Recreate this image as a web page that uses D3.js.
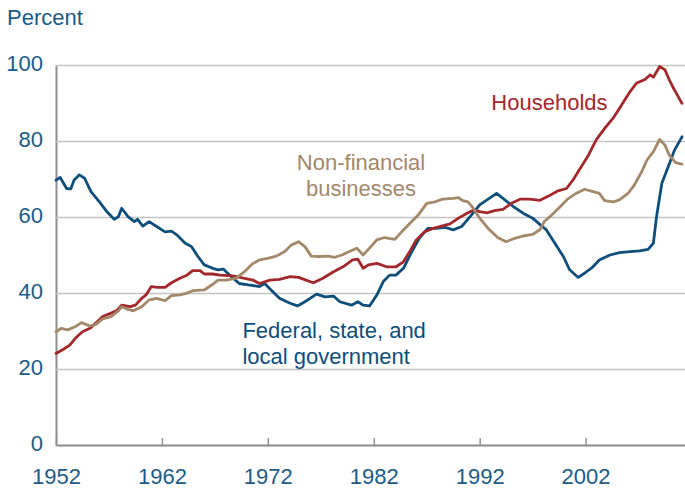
<!DOCTYPE html>
<html>
<head>
<meta charset="utf-8">
<script src="https://cdn.jsdelivr.net/npm/d3@7"></script>
<style>
    body { margin: 0; background: #fff; }
    .chart { width: 685px; height: 489px; }
    text { font-family: "Liberation Sans", Arial, sans-serif; font-size: 22px; }
    .axis text { fill: #1c5b87; }
</style>
</head>
<body>
<div class="chart"></div>
<script>
// Debt as a percent of GDP (year, percent)

let chart = {};

let xTicks = [1952, 1962, 1972, 1982, 1992, 2002];
let yTicks = [0, 20, 40, 60, 80, 100];

let fedYears = [1952.0, 1952.4, 1953.0, 1953.4, 1953.7, 1954.2, 1954.7, 1955.3, 1956.1, 1956.8,
    1957.5, 1957.9, 1958.2, 1958.8, 1959.4, 1959.7, 1960.2, 1960.8, 1961.5, 1962.3,
    1962.9, 1963.4, 1964.2, 1964.8, 1965.4, 1966.0, 1966.8, 1967.3, 1967.8, 1968.4,
    1969.3, 1970.3, 1971.2, 1971.7, 1972.3, 1973.1, 1974.1, 1974.8, 1975.5, 1976.6,
    1977.4, 1978.2, 1978.8, 1979.9, 1980.5, 1981.0, 1981.6, 1982.3, 1982.9, 1983.5,
    1984.1, 1984.8, 1985.6, 1986.3, 1987.1, 1987.9, 1988.7, 1989.5, 1990.3, 1991.1,
    1992.0, 1992.8, 1993.6, 1994.2, 1995.2, 1996.1, 1997.0, 1997.7, 1998.3, 1999.1,
    1999.9, 2000.5, 2001.3, 2001.9, 2002.7, 2003.3, 2004.3, 2005.2, 2006.2, 2007.1,
    2007.9, 2008.4, 2008.7, 2009.2, 2009.8, 2010.4, 2011.1];
let fedValues = [69.7, 70.4, 67.5, 67.4, 69.7, 71.1, 70.2, 66.7, 64.0, 61.4,
    59.4, 60.1, 62.3, 60.1, 58.8, 59.4, 57.6, 58.8, 57.5, 56.1,
    56.3, 55.3, 53.1, 52.2, 49.6, 47.4, 46.5, 46.1, 46.3, 44.7,
    42.5, 42.1, 41.7, 42.5, 40.8, 38.6, 37.3, 36.6, 37.7, 39.7,
    39.0, 39.2, 37.7, 36.8, 37.7, 36.8, 36.6, 39.5, 43.0, 44.7,
    44.7, 46.5, 50.9, 54.4, 57.0, 57.0, 57.3, 56.6, 57.5, 60.1,
    63.2, 64.7, 66.2, 64.9, 62.7, 61.0, 59.7, 58.0, 56.6, 53.1,
    49.6, 46.1, 44.1, 45.2, 46.9, 48.7, 50.0, 50.6, 50.9, 51.1,
    51.5, 53.1, 60.1, 68.9, 73.2, 77.6, 81.1];

let houseYears = [1952.0, 1952.7, 1953.3, 1953.9, 1954.5, 1955.2, 1955.8, 1956.4, 1957.2, 1957.7,
    1958.2, 1959.0, 1959.5, 1960.1, 1960.5, 1961.0, 1961.6, 1962.3, 1962.9, 1963.7,
    1964.3, 1964.9, 1965.6, 1966.0, 1966.8, 1967.5, 1968.7, 1969.7, 1970.6, 1971.2,
    1972.2, 1973.1, 1974.1, 1974.9, 1975.6, 1976.3, 1977.2, 1978.2, 1979.1, 1980.0,
    1980.5, 1981.0, 1981.5, 1982.3, 1983.2, 1984.1, 1984.8, 1985.4, 1986.0, 1986.8,
    1987.6, 1988.4, 1989.2, 1990.0, 1990.8, 1991.4, 1992.0, 1992.7, 1993.4, 1994.2,
    1995.0, 1995.8, 1996.7, 1997.7, 1998.5, 1999.4, 2000.2, 2000.8, 2001.5, 2002.2,
    2003.0, 2003.8, 2004.6, 2005.4, 2006.2, 2006.8, 2007.6, 2008.1, 2008.4, 2009.0,
    2009.5, 2009.9, 2010.4, 2011.1];
let houseValues = [24.1, 25.2, 26.3, 28.3, 29.8, 30.7, 32.2, 33.8, 34.7, 35.3,
    36.8, 36.4, 36.8, 38.6, 39.5, 41.7, 41.5, 41.5, 42.7, 43.9,
    44.6, 45.9, 45.9, 45.0, 45.0, 44.7, 44.5, 43.9, 43.4, 42.5,
    43.4, 43.6, 44.3, 44.1, 43.4, 42.7, 43.9, 45.6, 46.9, 48.7,
    48.9, 46.5, 47.4, 47.8, 46.9, 46.9, 48.2, 50.9, 53.9, 56.1,
    57.0, 57.6, 58.2, 59.7, 61.0, 61.8, 61.4, 61.1, 61.7, 62.0,
    63.6, 64.7, 64.7, 64.4, 65.5, 66.9, 67.5, 69.7, 72.8, 75.9,
    80.3, 83.3, 86.0, 89.5, 93.0, 95.2, 96.2, 97.4, 96.8, 99.6,
    98.7, 96.1, 93.4, 89.9];

let bizYears = [1952.0, 1952.5, 1953.1, 1953.8, 1954.4, 1955.2, 1955.8, 1956.4, 1957.2, 1957.9,
    1958.2, 1958.8, 1959.3, 1960.1, 1960.8, 1961.5, 1962.3, 1962.9, 1963.7, 1964.3,
    1964.9, 1966.0, 1966.7, 1967.3, 1968.1, 1969.0, 1969.8, 1970.6, 1971.2, 1972.0,
    1972.8, 1973.6, 1974.2, 1974.9, 1975.5, 1976.1, 1976.9, 1977.7, 1978.3, 1979.0,
    1979.7, 1980.4, 1981.0, 1981.6, 1982.3, 1983.0, 1984.0, 1984.8, 1985.4, 1986.2,
    1987.0, 1987.8, 1988.5, 1989.5, 1990.0, 1990.4, 1990.9, 1991.4, 1992.0, 1992.8,
    1993.7, 1994.5, 1995.3, 1996.1, 1997.0, 1997.7, 1998.1, 1998.8, 1999.6, 2000.3,
    2001.1, 2001.9, 2002.7, 2003.3, 2003.8, 2004.6, 2005.2, 2006.0, 2006.6, 2007.3,
    2007.8, 2008.4, 2009.0, 2009.5, 2009.9, 2010.5, 2011.1];
let bizValues = [29.8, 30.7, 30.3, 31.1, 32.2, 31.3, 31.8, 33.2, 33.8, 35.3,
    36.4, 35.7, 35.3, 36.4, 38.2, 38.6, 38.0, 39.3, 39.5, 39.9,
    40.6, 40.8, 42.1, 43.4, 43.4, 43.9, 45.6, 47.8, 48.7, 49.1,
    49.7, 50.9, 52.6, 53.5, 52.2, 49.7, 49.6, 49.7, 49.4, 50.0,
    50.9, 51.8, 50.0, 51.8, 54.0, 54.6, 54.1, 56.6, 58.3, 60.5,
    63.6, 64.0, 64.7, 64.9, 65.1, 64.3, 64.0, 62.3, 59.7, 57.0,
    54.6, 53.5, 54.4, 55.0, 55.4, 56.7, 58.8, 60.5, 62.7, 64.7,
    66.2, 67.3, 66.7, 66.2, 64.3, 64.0, 64.5, 66.2, 68.4, 71.9,
    75.0, 77.2, 80.4, 78.9, 76.3, 74.3, 73.9];

// direct labels, anchored in data units (year, percent at the first baseline)
let seriesLabels = [
    { id: "house", lines: ["Households"], year: 1993.1, val: 88.2, anchor: "start" },
    { id: "biz", lines: ["Non-financial", "businesses"], year: 1980.8, val: 72.4, anchor: "middle" },
    { id: "fed", lines: ["Federal, state, and", "local government"], year: 1969.6, val: 28.2, anchor: "start" }
];

init();

function init() {

    chart.colors = {
        "fed": "#0e4e7a",
        "house": "#a3282c",
        "biz": "#a3886a"
    };

    chart.theData = [
        { id: "fed", years: fedYears, vals: fedValues },
        { id: "house", years: houseYears, vals: houseValues },
        { id: "biz", years: bizYears, vals: bizValues }
    ].map(s => {
        return {
            id: s.id,
            values: s.years.map((y, i) => {
                return { year: y, val: s.vals[i] };
            })
        };
    });

    setDimensions();
    setScales();
    appendElements();
    updateElements();
}

function setDimensions() {
    chart.margin = { top: 65, right: 0, bottom: 44, left: 56 };
    chart.outerWidth = 685;
    chart.outerHeight = 489;
    chart.width = chart.outerWidth - chart.margin.left - chart.margin.right;
    chart.height = chart.outerHeight - chart.margin.top - chart.margin.bottom;
}

function setScales() {
    // one decade is about 106px, so the axis runs a little past the right edge
    chart.xScale = d3.scaleLinear()
        .domain([1952, 2012])
        .range([0, 635.5]);

    chart.yScale = d3.scaleLinear()
        .domain([0, 100])
        .range([chart.height, 0]);

    chart.line = d3.line()
        .x(d => chart.xScale(d.year))
        .y(d => chart.yScale(d.val));
}

function appendElements() {
    chart.svg = d3.select(".chart").append("svg");
    chart.plot = chart.svg.append("g");

    chart.yAxis = chart.plot.append("g").attr("class", "axis y-axis");
    chart.xAxis = chart.plot.append("g").attr("class", "axis x-axis");

    chart.linePath = chart.plot.selectAll(".series")
        .data(chart.theData)
        .enter()
        .append("path")
        .attr("class", d => `series ${d.id}`);

    chart.labels = chart.plot.selectAll(".series-label")
        .data(seriesLabels)
        .enter()
        .append("text")
        .attr("class", "series-label");

    chart.unit = chart.svg.append("text").attr("class", "unit");
}

function updateElements() {
    chart.svg.attr("width", chart.outerWidth).attr("height", chart.outerHeight);
    chart.plot.attr("transform", `translate(${chart.margin.left},${chart.margin.top})`);

    chart.yAxis.call(
        d3.axisLeft(chart.yScale)
            .tickValues(yTicks)
            .tickSize(-chart.width)
            .tickSizeOuter(0)
            .tickPadding(13)
    );
    chart.yAxis.select(".domain").attr("stroke", "#8f8f8f").attr("stroke-width", 2);
    chart.yAxis.selectAll(".tick line").attr("stroke", "#c3c3c3").attr("stroke-width", 1.6);
    chart.yAxis.selectAll(".tick text").attr("dy", "0.23em").attr("font-size", 22);

    chart.xAxis.attr("transform", `translate(0,${chart.height})`)
        .call(
            d3.axisBottom(chart.xScale)
                .tickValues(xTicks)
                .tickFormat(d3.format("d"))
                .tickSize(-7)
                .tickSizeOuter(0)
                .tickPadding(23)
        );
    chart.xAxis.select(".domain").attr("stroke", "#8f8f8f").attr("stroke-width", 2);
    chart.xAxis.selectAll(".tick line").attr("stroke", "#8f8f8f").attr("stroke-width", 1.5);
    chart.xAxis.selectAll(".tick text").attr("font-size", 22);

    chart.linePath
        .attr("d", d => chart.line(d.values))
        .attr("fill", "none")
        .attr("stroke", d => chart.colors[d.id])
        .attr("stroke-width", 2.8)
        .attr("stroke-linejoin", "round")
        .attr("stroke-linecap", "round");

    chart.labels
        .attr("x", d => chart.xScale(d.year))
        .attr("y", d => chart.yScale(d.val))
        .attr("text-anchor", d => d.anchor)
        .attr("fill", d => chart.colors[d.id])
        .each(function(d) {
            let t = d3.select(this);
            d.lines.forEach((line, i) => {
                t.append("tspan")
                    .attr("x", chart.xScale(d.year))
                    .attr("dy", i === 0 ? 0 : 26)
                    .text(line);
            });
        });

    chart.unit
        .attr("x", 7)
        .attr("y", 25)
        .attr("fill", "#1c5b87")
        .text("Percent");
}
</script>
</body>
</html>
